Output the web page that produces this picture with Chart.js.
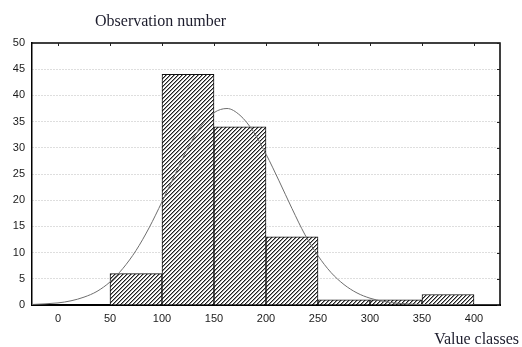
<!DOCTYPE html>
<html><head><meta charset="utf-8">
<script src="https://cdn.jsdelivr.net/npm/chart.js@4/dist/chart.umd.min.js"></script>
<style>html,body{margin:0;padding:0;background:#fff}#wrap{width:522px;height:347px}</style>
</head><body><div id="wrap"><canvas id="c" width="522" height="347"></canvas></div>
<script>
// ---- data ----
const binStarts = [50, 100, 150, 200, 250, 300, 350];
const binWidth = 50;
const counts = [6, 44, 34, 13, 1, 1, 2];
const curveX = [-25, 0, 12.5, 25, 37.5, 50, 62.5, 75, 87.5, 100, 112.5, 125, 137.5, 150, 162.5, 175, 187.5, 200, 212.5, 225, 237.5, 250, 262.5, 275, 287.5, 300, 312.5, 325, 350, 375, 400, 425];
const curveY = [0.1, 0.4, 0.8, 1.5, 2.6, 4.4, 7.0, 10.4, 14.7, 19.7, 24.9, 30.0, 34.1, 36.7, 37.5, 36.2, 33.2, 28.8, 23.7, 18.4, 13.4, 9.4, 6.2, 3.9, 2.3, 1.3, 0.7, 0.36, 0.08, 0.02, 0, 0];
const xTicks = [0, 50, 100, 150, 200, 250, 300, 350, 400];
const yTicks = [0, 5, 10, 15, 20, 25, 30, 35, 40, 45, 50];
const yTitle = 'Observation number';
const xTitle = 'Value classes';

// ---- hatch pattern ----
const canvas = document.getElementById('c');
const tile = document.createElement('canvas');
tile.width = 4; tile.height = 4;
const tctx = tile.getContext('2d');
const img = tctx.createImageData(4, 4);
for (let y = 0; y < 4; y++) for (let x = 0; x < 4; x++) {
  const d = (x + y) % 4;
  const v = d === 0 ? 30 : (d === 1 ? 150 : 255);
  const i = (y * 4 + x) * 4;
  img.data[i] = v; img.data[i+1] = v; img.data[i+2] = v; img.data[i+3] = 255;
}
tctx.putImageData(img, 0, 0);
const hatch = canvas.getContext('2d').createPattern(tile, 'repeat');

const framePlugin = {
  id: 'frame',
  afterDraw(chart) {
    const {ctx, chartArea: a, scales} = chart;
    ctx.save();
    ctx.strokeStyle = '#000';
    ctx.lineWidth = 1.5;
    ctx.beginPath();
    ctx.moveTo(a.left, a.top); ctx.lineTo(a.right, a.top); ctx.lineTo(a.right, a.bottom);
    ctx.stroke();
    ctx.lineWidth = 1;
    ctx.strokeStyle = '#222';
    ctx.beginPath();
    xTicks.forEach(v => { const x = Math.round(scales.x.getPixelForValue(v)) + 0.5; ctx.moveTo(x, a.top); ctx.lineTo(x, a.top + 3); });
    yTicks.forEach(v => { const y = Math.round(scales.y.getPixelForValue(v)) + 0.5; ctx.moveTo(a.right, y); ctx.lineTo(a.right - 3, y); });
    ctx.stroke();
    ctx.fillStyle = '#1c1c2c';
    ctx.font = '16px "Liberation Serif", "Times New Roman", serif';
    ctx.textBaseline = 'alphabetic';
    ctx.textAlign = 'left';
    ctx.fillText(yTitle, 95, 26);
    ctx.textAlign = 'right';
    ctx.fillText(xTitle, 519, 344);
    ctx.restore();
  }
};

new Chart(canvas, {
  type: 'bar',
  data: {
    datasets: [
      {
        type: 'line',
        data: curveX.map((x, i) => ({x: x, y: curveY[i]})),
        borderColor: '#6e6e6e',
        borderWidth: 1,
        pointRadius: 0,
        cubicInterpolationMode: 'monotone',
        fill: false,
        order: 0
      },
      {
        type: 'bar',
        data: binStarts.map((s, i) => ({x: s + binWidth / 2, y: counts[i]})),
        backgroundColor: hatch,
        borderColor: '#111',
        borderWidth: 1,
        barPercentage: 1,
        categoryPercentage: 1,
        order: 1
      }
    ]
  },
  options: {
    responsive: false,
    animation: false,
    devicePixelRatio: 1,
    layout: {padding: {top: 43, right: 22, left: 0, bottom: 0}},
    plugins: {legend: {display: false}, tooltip: {enabled: false}, title: {display: false}},
    scales: {
      x: {
        type: 'linear', min: -25, max: 425, offset: false,
        afterBuildTicks: s => { s.ticks = xTicks.map(v => ({value: v})); },
        afterFit: s => { s.height = 42; },
        grid: {display: false, drawTicks: false},
        border: {display: true, color: '#000', width: 2},
        ticks: {font: {family: '"Liberation Sans", Arial, sans-serif', size: 11}, color: '#1a1a1a', padding: 7, autoSkip: false, maxRotation: 0}
      },
      y: {
        min: 0, max: 50,
        afterBuildTicks: s => { s.ticks = yTicks.map(v => ({value: v})); },
        afterFit: s => { s.width = 32; },
        grid: {drawTicks: false, color: c => (c.tick && (c.tick.value === 0 || c.tick.value === 50)) ? 'rgba(0,0,0,0)' : '#bcbcbc', lineWidth: 1},
        border: {display: true, color: '#000', width: 1.5, dash: [1, 2]},
        ticks: {font: {family: '"Liberation Sans", Arial, sans-serif', size: 11}, color: '#1a1a1a', padding: 7}
      }
    }
  },
  plugins: [framePlugin]
});
</script>
</body></html>
